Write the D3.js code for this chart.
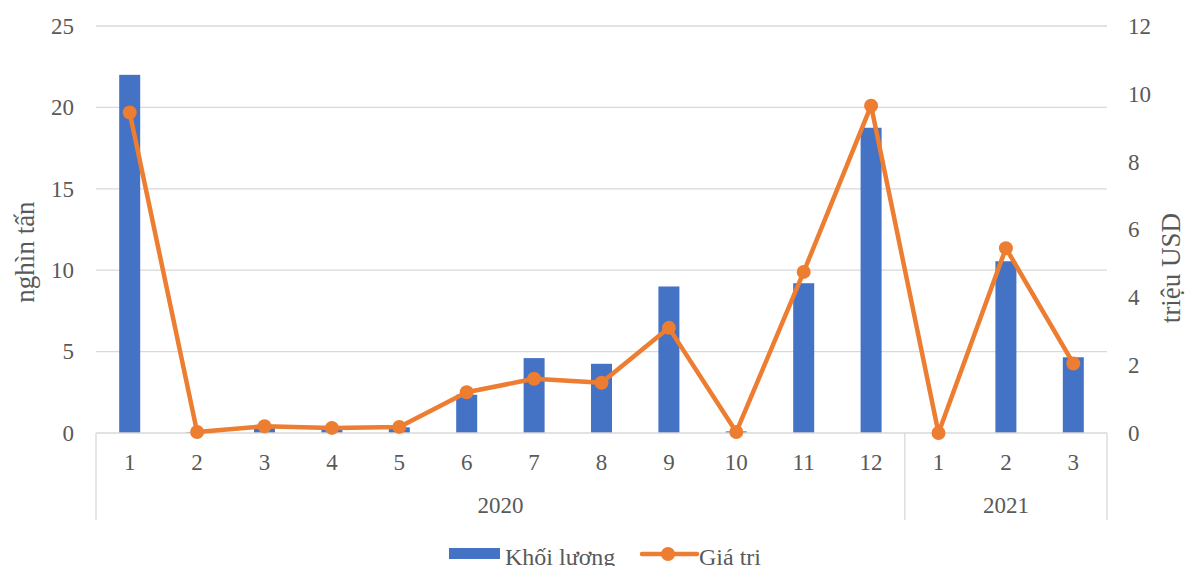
<!DOCTYPE html>
<html lang="vi">
<head>
<meta charset="UTF-8">
<title>Khối lượng và giá trị</title>
<style>
  body { margin: 0; background: #fff; }
  svg text { font-family: "Liberation Serif", "Times New Roman", serif; fill: #595959; }
</style>
</head>
<body>
<div id="chart"></div>
<script src="https://cdn.jsdelivr.net/npm/d3@7"></script>
<script>
const months = ["1","2","3","4","5","6","7","8","9","10","11","12","1","2","3"];
const years = ["2020","2020","2020","2020","2020","2020","2020","2020","2020","2020","2020","2020","2021","2021","2021"];
const khoiLuong = [22.0, 0.05, 0.3, 0.3, 0.35, 2.35, 4.6, 4.25, 9.0, 0.1, 9.2, 18.75, 0, 10.55, 4.65];
const giaTri = [9.45, 0.03, 0.2, 0.15, 0.18, 1.2, 1.6, 1.48, 3.1, 0.03, 4.75, 9.65, 0, 5.45, 2.05];
const leftTicks = [0, 5, 10, 15, 20, 25];
const rightTicks = [0, 2, 4, 6, 8, 10, 12];

const width = 1189, height = 566;
const m = { left: 96, right: 82, top: 26, bottom: 133 };
const fs = "23px";

const svg = d3.select("#chart").append("svg")
    .attr("width", width).attr("height", height);

const x = d3.scaleBand()
    .domain(d3.range(months.length))
    .range([m.left, width - m.right]);

const yL = d3.scaleLinear().domain([0, 25]).range([height - m.bottom, m.top]);
const yR = d3.scaleLinear().domain([0, 12]).range([height - m.bottom, m.top]);

// gridlines
svg.append("g")
    .selectAll("line")
    .data(leftTicks.slice(1))
    .join("line")
    .attr("x1", m.left).attr("x2", width - m.right)
    .attr("y1", d => yL(d)).attr("y2", d => yL(d))
    .attr("stroke", "#d9d9d9").attr("stroke-width", 1.3);

// left axis
const axL = svg.append("g")
    .attr("transform", `translate(${m.left},0)`)
    .call(d3.axisLeft(yL).tickValues(leftTicks).tickSize(0).tickPadding(22));
axL.select(".domain").remove();
axL.selectAll("text").style("font-size", fs).attr("fill", "#595959");

// right axis
const axR = svg.append("g")
    .attr("transform", `translate(${width - m.right},0)`)
    .call(d3.axisRight(yR).tickValues(rightTicks).tickSize(0).tickPadding(21));
axR.select(".domain").remove();
axR.selectAll("text").style("font-size", fs).attr("fill", "#595959");

// bars
const bw = 21;
svg.append("g")
    .selectAll("rect")
    .data(khoiLuong)
    .join("rect")
    .attr("x", (d, i) => x(i) + x.bandwidth() / 2 - bw / 2)
    .attr("width", bw)
    .attr("y", d => yL(d))
    .attr("height", d => yL(0) - yL(d))
    .attr("fill", "#4472C4");

// category axis
const base = yL(0);
svg.append("line")
    .attr("x1", m.left).attr("x2", width - m.right)
    .attr("y1", base).attr("y2", base)
    .attr("stroke", "#d9d9d9").attr("stroke-width", 1.3);

svg.append("g")
    .selectAll("text")
    .data(months)
    .join("text")
    .attr("x", (d, i) => x(i) + x.bandwidth() / 2)
    .attr("y", base + 37)
    .attr("text-anchor", "middle")
    .style("font-size", fs)
    .text(d => d);

// year groups
const groups = d3.groups(d3.range(months.length), i => years[i]);
const seps = [0];
groups.forEach(([yr, idx]) => seps.push(idx[idx.length - 1] + 1));
svg.append("g")
    .selectAll("line")
    .data(seps)
    .join("line")
    .attr("x1", d => d < months.length ? x(d) : x.range()[1])
    .attr("x2", d => d < months.length ? x(d) : x.range()[1])
    .attr("y1", base).attr("y2", base + 87)
    .attr("stroke", "#d9d9d9").attr("stroke-width", 1.3);

svg.append("g")
    .selectAll("text")
    .data(groups)
    .join("text")
    .attr("x", ([yr, idx]) => (x(idx[0]) + x(idx[idx.length - 1]) + x.bandwidth()) / 2)
    .attr("y", base + 80)
    .attr("text-anchor", "middle")
    .style("font-size", fs)
    .text(([yr]) => yr);

// line
const line = d3.line()
    .x((d, i) => x(i) + x.bandwidth() / 2)
    .y(d => yR(d));

svg.append("path")
    .datum(giaTri)
    .attr("d", line)
    .attr("fill", "none")
    .attr("stroke", "#ED7D31")
    .attr("stroke-width", 4.5)
    .attr("stroke-linejoin", "round");

svg.append("g")
    .selectAll("circle")
    .data(giaTri)
    .join("circle")
    .attr("cx", (d, i) => x(i) + x.bandwidth() / 2)
    .attr("cy", d => yR(d))
    .attr("r", 7)
    .attr("fill", "#ED7D31");

// axis titles (both read bottom to top)
svg.append("text")
    .attr("transform", "translate(34,252) rotate(-90)")
    .attr("text-anchor", "middle")
    .style("font-size", "27px")
    .text("nghìn tấn");

svg.append("text")
    .attr("transform", "translate(1180,268) rotate(-90)")
    .attr("text-anchor", "middle")
    .style("font-size", "27px")
    .text("triệu USD");

// legend
const lg = svg.append("g");
lg.append("rect")
    .attr("x", 449).attr("y", 548).attr("width", 51).attr("height", 11)
    .attr("fill", "#4472C4");
lg.append("text")
    .attr("x", 505).attr("y", 565)
    .style("font-size", "24px")
    .text("Khối lượng");
lg.append("line")
    .attr("x1", 642).attr("x2", 697).attr("y1", 554).attr("y2", 554)
    .attr("stroke", "#ED7D31").attr("stroke-width", 4.5).attr("stroke-linecap", "round");
lg.append("circle")
    .attr("cx", 668).attr("cy", 554).attr("r", 7).attr("fill", "#ED7D31");
lg.append("text")
    .attr("x", 699).attr("y", 565)
    .style("font-size", "24px")
    .text("Giá trị");
</script>
</body>
</html>
